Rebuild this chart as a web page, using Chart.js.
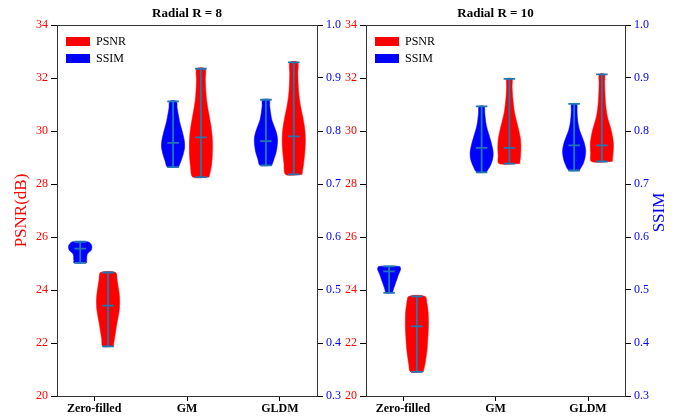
<!DOCTYPE html>
<html>
<head>
<meta charset="utf-8">
<script src="https://cdn.jsdelivr.net/npm/chart.js@4.4.0/dist/chart.umd.min.js"></script>
<style>
  html, body { margin: 0; padding: 0; background: #fff; }
  #wrap { position: relative; width: 691px; height: 416px; }
  .panel { position: absolute; top: 0; height: 416px; }
</style>
</head>
<body>
<div id="wrap">
  <div class="panel" style="left:0;width:345px"><canvas id="r8" width="345" height="416"></canvas></div>
  <div class="panel" style="left:345px;width:346px"><canvas id="r10" width="346" height="416"></canvas></div>
</div>
<script>
const categories = ['Zero-filled', 'GM', 'GLDM'];
const psnrTicks = [20, 22, 24, 26, 28, 30, 32, 34];
const ssimTicks = [0.3, 0.4, 0.5, 0.6, 0.7, 0.8, 0.9, 1.0];

// Radial R = 8
const psnrMinR8 = [21.87, 28.26, 28.36];
const psnrMaxR8 = [24.66, 32.35, 32.59];
const psnrMeanR8 = [23.41, 29.76, 29.80];
const ssimMinR8 = [0.551, 0.732, 0.735];
const ssimMaxR8 = [0.591, 0.856, 0.859];
const ssimMeanR8 = [0.578, 0.7775, 0.781];

// Radial R = 10
const psnrMinR10 = [20.91, 28.77, 28.85];
const psnrMaxR10 = [23.76, 31.97, 32.14];
const psnrMeanR10 = [22.63, 29.36, 29.46];
const ssimMinR10 = [0.4945, 0.722, 0.7255];
const ssimMaxR10 = [0.5445, 0.8465, 0.851];
const ssimMeanR10 = [0.535, 0.768, 0.773];

// violin widths (relative density), 11 levels from min to max
const psnrShapeR8 = [
  [0.45, 0.55, 0.65, 0.75, 0.87, 0.97, 1.0, 0.97, 0.88, 0.78, 0.65],
  [0.7, 0.9, 0.98, 1.0, 0.95, 0.82, 0.65, 0.5, 0.42, 0.38, 0.36],
  [0.7, 0.85, 0.95, 1.0, 0.95, 0.8, 0.6, 0.45, 0.38, 0.35, 0.33]
];
const ssimShapeR8 = [
  [0.55, 0.55, 0.56, 0.57, 0.6, 0.75, 0.95, 1.0, 1.0, 0.92, 0.65],
  [0.48, 0.7, 0.88, 1.0, 0.97, 0.85, 0.7, 0.55, 0.45, 0.35, 0.28],
  [0.5, 0.7, 0.88, 0.97, 1.0, 0.9, 0.7, 0.5, 0.4, 0.33, 0.28]
];
const psnrShapeR10 = [
  [0.55, 0.7, 0.8, 0.88, 0.93, 0.97, 1.0, 1.0, 0.97, 0.88, 0.7],
  [0.9, 0.97, 1.0, 0.95, 0.8, 0.62, 0.45, 0.35, 0.28, 0.24, 0.22],
  [0.9, 0.97, 1.0, 0.9, 0.72, 0.5, 0.37, 0.3, 0.26, 0.24, 0.22]
];
const ssimShapeR10 = [
  [0.28, 0.35, 0.42, 0.5, 0.58, 0.66, 0.74, 0.82, 0.92, 1.0, 0.9],
  [0.4, 0.75, 0.95, 1.0, 0.9, 0.75, 0.58, 0.42, 0.33, 0.27, 0.22],
  [0.45, 0.78, 0.95, 1.0, 0.9, 0.7, 0.48, 0.35, 0.28, 0.25, 0.22]
];

const SERIF = '"Liberation Serif", "Times New Roman", serif';
const OFFSET = 0.15;   // violin shift from category centre
const HALF = 0.125;    // max half width of a violin
const CAP = 0.0625;    // half length of min/max/mean bars
const STAT_COLOR = '#1f77b4';

function outline(pos, lo, hi, shape) {
  const n = shape.length - 1;
  const level = k => lo + (hi - lo) * k / n;
  const right = shape.map((w, k) => ({x: pos + w * HALF, y: level(k)}));
  const left = shape.map((w, k) => ({x: pos - w * HALF, y: level(k)})).reverse();
  return right.concat(left, [right[0]]);
}

function statLines(pos, lo, hi, mean) {
  const gap = {x: null, y: null};
  return [
    {x: pos - CAP, y: lo}, {x: pos + CAP, y: lo}, gap,
    {x: pos, y: lo}, {x: pos, y: hi}, gap,
    {x: pos - CAP, y: hi}, {x: pos + CAP, y: hi}, gap,
    {x: pos - CAP, y: mean}, {x: pos + CAP, y: mean}
  ];
}

function buildDatasets(pMin, pMax, pMean, pShape, sMin, sMax, sMean, sShape) {
  const sets = [];
  categories.forEach((c, i) => {
    const ps = i + 1 + OFFSET, ss = i + 1 - OFFSET;
    sets.push({
      data: outline(ss, sMin[i], sMax[i], sShape[i]), yAxisID: 'y1',
      backgroundColor: 'blue', borderColor: 'blue', borderWidth: 0.5,
      fill: 'shape', tension: 0.3, order: 2
    });
    sets.push({
      data: outline(ps, pMin[i], pMax[i], pShape[i]), yAxisID: 'y',
      backgroundColor: 'red', borderColor: 'red', borderWidth: 0.5,
      fill: 'shape', tension: 0.3, order: 2
    });
    sets.push({
      data: statLines(ss, sMin[i], sMax[i], sMean[i]), yAxisID: 'y1',
      borderColor: STAT_COLOR, borderWidth: 1.8, fill: false, tension: 0, order: 1
    });
    sets.push({
      data: statLines(ps, pMin[i], pMax[i], pMean[i]), yAxisID: 'y',
      borderColor: STAT_COLOR, borderWidth: 1.8, fill: false, tension: 0, order: 1
    });
  });
  sets.forEach(d => {
    d.showLine = true; d.pointRadius = 0; d.pointHoverRadius = 0; d.spanGaps = false;
  });
  return sets;
}

// right-hand axis label, written bottom-to-top like the left one
const ssimTitle = {
  id: 'ssimTitle',
  afterDraw(chart, args, opts) {
    if (!opts.text) return;
    const s = chart.scales.y1, ctx = chart.ctx, a = chart.chartArea;
    ctx.save();
    ctx.translate(s.right - opts.offset, (a.top + a.bottom) / 2 + 2);
    ctx.rotate(-Math.PI / 2);
    ctx.font = '17px ' + SERIF;
    ctx.fillStyle = 'blue';
    ctx.textAlign = 'center';
    ctx.textBaseline = 'middle';
    ctx.fillText(opts.text, 0, 0);
    ctx.restore();
  }
};

// chartArea legends get top reset to 0 in column mode, move it back inside
const legendInside = {
  id: 'legendInside',
  afterLayout(chart) {
    const l = chart.legend;
    if (!l) return;
    const dy = chart.chartArea.top + 5.5 - l.top;
    const dx = chart.chartArea.left + 4 - l.left;
    l.top += dy; l.bottom += dy;
    l.left += dx; l.right += dx;
  }
};

function makeChart(id, title, datasets, w) {
  const axisGrid = {drawOnChartArea: false, tickLength: 6, color: '#000'};
  const axisBorder = {color: '#333', width: 1};
  return new Chart(document.getElementById(id), {
    type: 'scatter',
    data: {datasets: datasets},
    plugins: [ssimTitle, legendInside],
    options: {
      responsive: false,
      animation: false,
      devicePixelRatio: 1,
      layout: {padding: 0},
      plugins: {
        tooltip: {enabled: false},
        title: {
          display: true, text: title, fullSize: false, color: '#000',
          font: {family: SERIF, size: 13, weight: 'bold'},
          padding: {top: 6, bottom: 3.4}
        },
        legend: {
          position: 'chartArea', align: 'start',
          labels: {
            boxWidth: 24, boxHeight: 9, padding: 5, color: '#000',
            useBorderRadius: true, borderRadius: 3,
            font: {family: SERIF, size: 12},
            generateLabels: () => [
              {text: 'PSNR', fillStyle: 'red', strokeStyle: 'red', lineWidth: 0, fontColor: '#000', hidden: false},
              {text: 'SSIM', fillStyle: 'blue', strokeStyle: 'blue', lineWidth: 0, fontColor: '#000', hidden: false}
            ]
          }
        },
        ssimTitle: {text: w.ssimTitle ? 'SSIM' : '', offset: 31}
      },
      scales: {
        x: {
          type: 'linear', position: 'bottom', min: 0.6, max: 3.4,
          afterBuildTicks: s => { s.ticks = categories.map((c, i) => ({value: i + 1})); },
          afterFit: s => { s.height = 20; },
          ticks: {
            callback: v => categories[v - 1], color: '#000', padding: 1,
            maxRotation: 0, autoSkip: false,
            font: {family: SERIF, size: 12, weight: 'bold'}
          },
          grid: {drawOnChartArea: false, tickLength: 5, color: '#000'},
          border: axisBorder
        },
        xTop: {
          type: 'linear', position: 'top', min: 0.6, max: 3.4,
          afterFit: s => { s.height = 0; },
          ticks: {display: false},
          grid: {display: false},
          border: axisBorder
        },
        y: {
          type: 'linear', position: 'left', min: 20, max: 34,
          afterBuildTicks: s => { s.ticks = psnrTicks.map(v => ({value: v})); },
          afterFit: s => { s.width = w.left; },
          ticks: {callback: v => String(v), color: 'red', padding: 3, font: {family: SERIF, size: 12}},
          grid: axisGrid,
          border: axisBorder,
          title: {
            display: w.psnrTitle, text: 'PSNR(dB)', color: 'red',
            font: {family: SERIF, size: 17}, padding: {top: 11, bottom: 0}
          }
        },
        y1: {
          type: 'linear', position: 'right', min: 0.3, max: 1.0,
          afterBuildTicks: s => { s.ticks = ssimTicks.map(v => ({value: v})); },
          afterFit: s => { s.width = w.right; },
          ticks: {callback: v => v.toFixed(1), color: 'blue', padding: 3, font: {family: SERIF, size: 12}},
          grid: axisGrid,
          border: axisBorder
        }
      }
    }
  });
}

makeChart('r8', 'Radial R = 8',
  buildDatasets(psnrMinR8, psnrMaxR8, psnrMeanR8, psnrShapeR8, ssimMinR8, ssimMaxR8, ssimMeanR8, ssimShapeR8),
  {left: 57, right: 28, psnrTitle: true, ssimTitle: false});

makeChart('r10', 'Radial R = 10',
  buildDatasets(psnrMinR10, psnrMaxR10, psnrMeanR10, psnrShapeR10, ssimMinR10, ssimMaxR10, ssimMeanR10, ssimShapeR10),
  {left: 21, right: 66, psnrTitle: false, ssimTitle: true});
</script>
</body>
</html>
